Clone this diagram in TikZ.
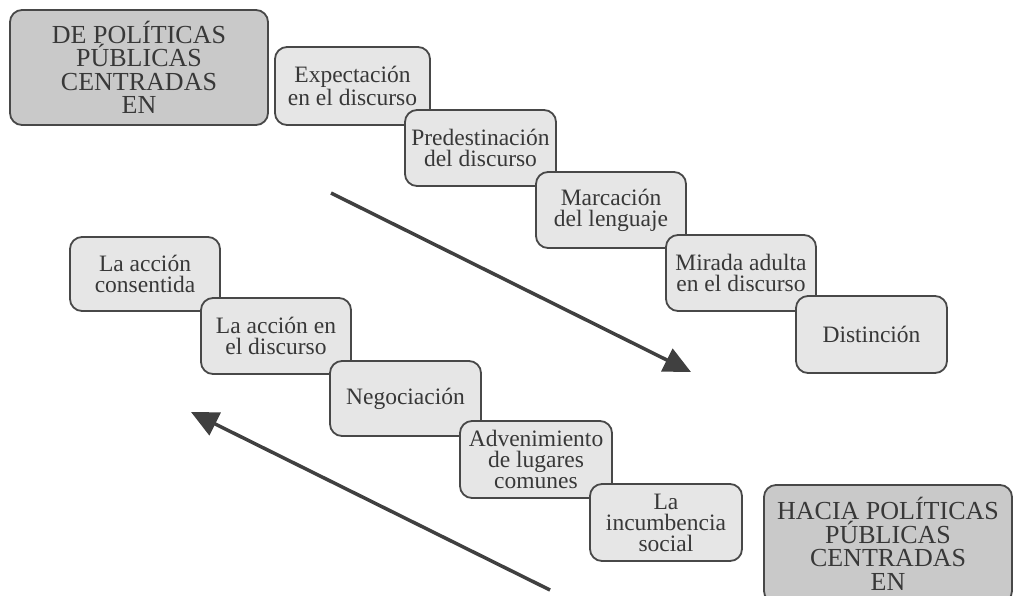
\documentclass[tikz,border=0pt]{standalone}
\usepackage{fontspec}
\setmainfont{Liberation Serif}
\usetikzlibrary{arrows.meta}
\definecolor{edge}{HTML}{484848}
\definecolor{ink}{HTML}{383838}
\definecolor{stagefill}{HTML}{E6E6E6}
\definecolor{framefill}{HTML}{C9C9C9}
\definecolor{arrowgray}{HTML}{404040}
\tikzset{
  stage/.style={draw=edge, line width=1.8pt, rounded corners=12pt, fill=stagefill,
    text=ink, align=center, inner sep=0pt, outer sep=0pt,
    minimum width=151pt, minimum height=76pt,
    font=\fontsize{23.5}{21}\selectfont},
  frame/.style={stage, fill=framefill, font=\fontsize{26}{23.5}\selectfont},
  flow/.style={draw=arrowgray, line width=3.5pt,
    -{Triangle[length=27pt,width=25pt]}}
}
\begin{document}
\begin{tikzpicture}[x=1pt,y=-1pt]
\clip (0,0) rectangle (1014,595);
\fill[white] (0,0) rectangle (1014,595);

% starting frame
\node[frame, minimum width=258pt, minimum height=115pt] (from) at (139,67.5)
  {\rule{0pt}{22pt}DE POLÍTICAS\\PÚBLICAS\\CENTRADAS\\EN};

% upper staircase
\node[stage, minimum width=155pt, minimum height=78pt] (s1) at (352.5,86) {Expectación\\en el discurso};
\node[stage] (s2) at (480.5,148) {Predestinación\\del discurso};
\node[stage, minimum width=150pt] (s3) at (611,210) {Marcación\\del lenguaje};
\node[stage, minimum width=150pt] (s4) at (741,273) {Mirada adulta\\en el discurso};
\node[stage, minimum height=77pt] (s5) at (871.5,334.5) {Distinción};

% lower staircase
\node[stage, minimum width=150pt, minimum height=74pt] (t1) at (145,274) {La acción\\consentida};
\node[stage, minimum width=150pt] (t2) at (276,336) {La acción en\\el discurso};
\node[stage, minimum height=75pt] (t3) at (405.5,398.5) {Negociación};
\node[stage, minimum width=152pt, minimum height=77pt] (t4) at (536,459.5) {Advenimiento\\de lugares\\comunes};
\node[stage, minimum width=152pt, minimum height=77pt] (t5) at (666,522.5) {La\\incumbencia\\social};

% closing frame
\node[frame, minimum width=248pt, minimum height=118pt] (to) at (888,544)
  {HACIA POLÍTICAS\\PÚBLICAS\\CENTRADAS\\EN};

% direction arrows
\coordinate (downA) at (331,193);
\coordinate (downB) at (691,372);
\coordinate (upA) at (550,590);
\coordinate (upB) at (191,412);
\draw[flow] (downA) -- (downB);
\draw[flow] (upA) -- (upB);
\end{tikzpicture}
\end{document}
